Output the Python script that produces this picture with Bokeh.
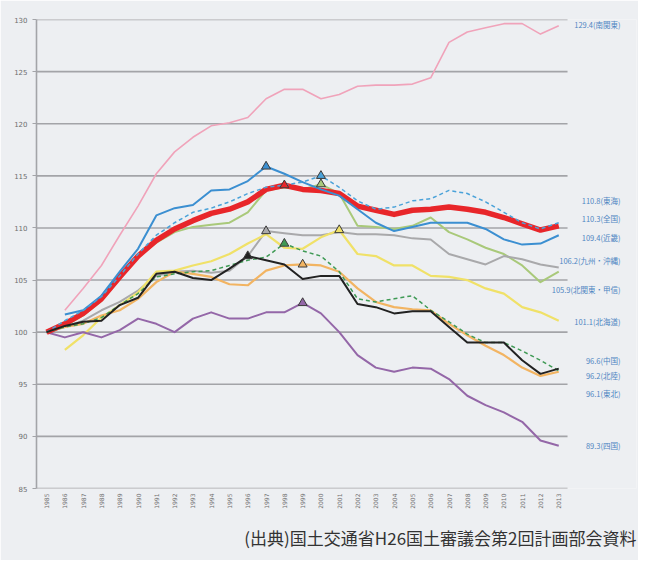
import math
import numpy as np
from bokeh.plotting import figure
from bokeh.models import Range1d, FixedTicker, Title
from bokeh.core.properties import value
from bokeh.embed import file_html
from bokeh.resources import INLINE

nan = float("nan")
years = list(range(1985, 2014))

minami_kanto = [nan, 102.1, 104.2, 106.4, 109.3, 112.1, 115.2, 117.3, 118.7, 119.8,
                120.1, 120.6, 122.4, 123.3, 123.3, 122.4, 122.8, 123.6, 123.7, 123.7,
                123.8, 124.4, 127.8, 128.8, 129.2, 129.6, 129.6, 128.6, 129.4]
tokai = [100.0, 101.1, 102.1, 103.4, 105.4, 107.5, 109.3, 110.5, 111.5, 111.9,
         112.5, 113.3, 113.9, 114.1, 114.4, 115.0, 113.9, 112.6, 111.8, 112.0,
         112.6, 112.8, 113.6, 113.3, 112.5, 111.5, 110.5, 109.9, 110.5]
zenkoku = [100.0, 100.8, 101.8, 103.2, 105.3, 107.3, 108.8, 109.9, 110.7, 111.4,
           111.8, 112.5, 113.7, 114.1, 113.7, 113.6, 113.3, 112.1, 111.7, 111.3,
           111.7, 111.8, 112.0, 111.8, 111.5, 111.0, 110.4, 109.8, 110.2]
kinki = [nan, 101.7, 102.1, 103.5, 105.8, 108.0, 111.2, 111.9, 112.2, 113.6,
         113.7, 114.5, 115.9, 115.2, 114.4, 113.7, 113.1, 111.8, 110.5, 109.7,
         110.1, 110.5, 110.5, 110.5, 109.9, 108.9, 108.4, 108.5, 109.3]
kyushu = [100.0, 100.5, 101.1, 102.1, 102.9, 104.0, 105.4, 105.8, 105.9, 105.7,
          105.9, 107.3, 109.7, 109.5, 109.3, 109.3, 109.6, 109.4, 109.4, 109.3,
          109.0, 108.9, 107.5, 107.0, 106.5, 107.3, 107.0, 106.5, 106.2]
kitakanto = [100.0, 100.6, 101.6, 103.0, 105.1, 107.2, 108.6, 109.6, 110.1, 110.3,
             110.5, 111.5, 113.6, 113.9, 113.7, 114.2, 113.3, 110.2, 110.1, 109.9,
             110.2, 111.0, 109.6, 108.9, 108.1, 107.5, 106.4, 104.8, 105.8]
hokkaido = [nan, 98.3, 99.7, 101.4, 102.6, 103.8, 105.8, 105.9, 106.4, 106.8,
            107.5, 108.5, 109.4, 108.1, 108.0, 109.1, 109.8, 107.5, 107.3, 106.4,
            106.4, 105.4, 105.3, 105.0, 104.2, 103.7, 102.4, 101.9, 101.1]
chugoku = [100.0, 100.6, 101.0, 101.1, 102.6, 103.3, 105.6, 105.8, 105.2, 105.0,
           106.1, 107.3, 106.9, 106.5, 105.1, 105.4, 105.4, 102.7, 102.4, 101.8,
           102.0, 102.0, 100.5, 99.0, 99.0, 99.0, 97.3, 96.0, 96.5]
hokuriku = [100.0, 100.5, 100.8, 101.6, 102.1, 103.2, 104.8, 105.8, 105.6, 105.3,
            104.6, 104.5, 105.9, 106.4, 106.5, 106.4, 105.8, 104.2, 102.9, 102.4,
            102.2, 102.1, 100.8, 99.7, 98.7, 97.8, 96.6, 95.8, 96.2]
tohoku = [100.0, 100.5, 100.8, 101.4, 102.6, 103.7, 105.3, 105.6, 105.8, 105.9,
          106.4, 106.9, 107.2, 108.5, 107.8, 107.3, 105.8, 103.2, 102.9, 103.2,
          103.5, 102.1, 101.0, 99.8, 99.0, 99.0, 98.2, 97.3, 96.3]
shikoku = [100.0, 99.5, 100.0, 99.5, 100.2, 101.3, 100.8, 100.0, 101.3, 101.9,
           101.3, 101.3, 101.9, 101.9, 102.8, 101.8, 100.0, 97.8, 96.6, 96.2,
           96.6, 96.5, 95.5, 93.9, 93.0, 92.3, 91.4, 89.6, 89.1]

end_labels = ["129.4(南関東)", "110.8(東海)", "110.3(全国)", "109.4(近畿)",
              "106.2(九州・沖縄)", "105.9(北関東・甲信)", "101.1(北海道)",
              "96.6(中国)", "96.2(北陸)", "96.1(東北)", "89.3(四国)"]
y_ticks = [85, 90, 95, 100, 105, 110, 115, 120, 125, 130]
source_text = "(出典)国土交通省H26国土審議会第2回計画部会資料"

# layout constants
X0, X_PLOT_END, X_FRAME_END = 1984.45, 2013.48, 2017.25
LABEL_X = 2016.38
label_y = [129.5, 112.6, 110.9, 109.05, 106.9, 104.1, 101.0, 97.25, 95.8, 94.1, 89.1]

BG = "#edeff2"
GRID = "#a3a4a8"
W, H = 638, 560
p = figure(width=W, height=H, output_backend="svg", toolbar_location=None,
           x_range=Range1d(X0, X_FRAME_END), y_range=Range1d(85, 130),
           min_border_left=36, min_border_right=2, min_border_top=19,
           min_border_bottom=71)
p.background_fill_color = BG
p.border_fill_color = BG
p.outline_line_color = None

p.xgrid.grid_line_color = None
p.ygrid.grid_line_color = None
p.yaxis.ticker = FixedTicker(ticks=y_ticks)
p.xaxis.ticker = FixedTicker(ticks=years)
for ax in (p.xaxis, p.yaxis):
    ax.axis_line_color = GRID
    ax.axis_line_width = 1.6
    ax.major_label_text_font = "DejaVu Sans"
    ax.major_label_text_color = "#6e6e6e"
    ax.minor_tick_line_color = None
p.xaxis.axis_line_color = None
p.yaxis.major_tick_line_color = GRID
p.yaxis.major_tick_in = 0
p.yaxis.major_tick_out = 4
p.yaxis.major_label_text_font_size = "7px"
p.xaxis.major_tick_line_color = None
p.xaxis.major_tick_in = 0
p.xaxis.major_tick_out = 0
p.xaxis.major_label_orientation = math.pi / 2
p.xaxis.major_label_text_font_size = "6px"
p.xaxis.major_label_standoff = 5

# horizontal gridlines (and bottom axis line) only over the plotting area
p.segment(x0=[X0] * len(y_ticks), y0=y_ticks, x1=[X_PLOT_END] * len(y_ticks),
          y1=y_ticks, line_color=GRID, line_width=1.6)

series = [
    (minami_kanto, "#f0a3ba", 1.6, "solid", False),
    (kitakanto, "#a9c97a", 2.0, "solid", True),
    (kyushu, "#a9a9ab", 2.0, "solid", True),
    (hokkaido, "#f0e168", 2.2, "solid", True),
    (hokuriku, "#f2b462", 2.2, "solid", True),
    (shikoku, "#9467a8", 2.0, "solid", True),
    (zenkoku, "#e8262a", 5.5, "solid", True),
    (kinki, "#3b8fd1", 2.0, "solid", True),
    (tokai, "#4aa2d9", 1.5, "4 3", True),
    (tohoku, "#3f9a55", 1.5, "4 3", True),
    (chugoku, "#222222", 2.0, "solid", True),
]
for vals, col, w, dash, peak in series:
    p.line(years, vals, line_color=col, line_width=w, line_dash=dash,
           line_join="round")
for vals, col, w, dash, peak in series:
    if peak:
        arr = np.array(vals)
        i = int(np.nanargmax(arr))
        p.scatter([years[i]], [vals[i]], marker="triangle", size=9,
                  fill_color=col, line_color="#3a3a3a", line_width=1)

p.text(x=[LABEL_X] * len(end_labels), y=label_y, text=end_labels,
       text_align="right", text_baseline="middle",
       text_font=value("Noto Sans CJK JP"), text_font_size="7.5px",
       text_color="#4f86c2")

p.add_layout(Title(text=source_text, align="right", text_font_size="17px",
                   text_font="Noto Sans CJK JP", text_font_style="normal",
                   text_color="#333333", standoff=22), "below")

open("out.html", "w").write(file_html(p, INLINE))
